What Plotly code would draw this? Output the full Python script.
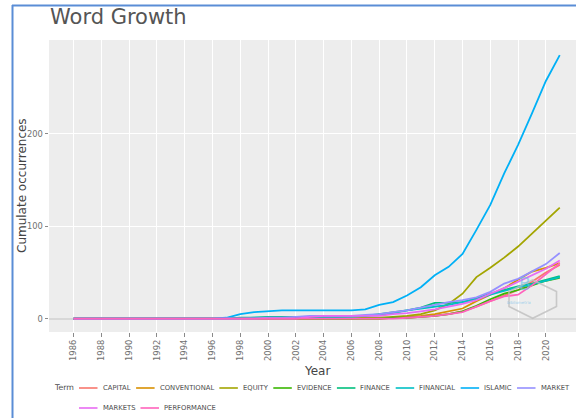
import plotly.graph_objects as go

years = list(range(1986, 2022))
terms = ["CAPITAL", "CONVENTIONAL", "EQUITY", "EVIDENCE", "FINANCE",
         "FINANCIAL", "ISLAMIC", "MARKET", "MARKETS", "PERFORMANCE"]
colors = ["#F8766D", "#D89000", "#A3A500", "#39B600", "#00BF7D",
          "#00BFC4", "#00B0F6", "#9590FF", "#E76BF3", "#FF62BC"]

# values 1986-1996 are all zero for every term
z = [0] * 11
capital = z + [0, 0, 0, 0, 0, 0, 0, 0, 0, 0, 0, 0, 1, 1, 2, 3, 5, 8, 13, 19, 25, 31, 40, 50, 58]
conventional = z + [0, 0, 0, 0, 0, 0, 0, 0, 0, 0, 0, 0, 1, 2, 3, 5, 8, 11, 19, 26, 33, 42, 51, 55, 60]
equity = z + [0, 0, 0, 0, 0, 0, 0, 0, 0, 0, 1, 1, 2, 3, 5, 9, 16, 27, 45, 55, 66, 78, 92, 106, 120]
evidence = z + [0, 0, 0, 0, 0, 0, 0, 0, 0, 0, 0, 0, 1, 1, 2, 3, 5, 8, 14, 21, 27, 31, 36, 41, 44]
finance = z + [0, 1, 1, 2, 2, 2, 2, 2, 2, 3, 3, 5, 7, 9, 12, 17, 17, 18, 22, 27, 31, 35, 38, 42, 46]
financial = z + [0, 0, 1, 1, 1, 1, 2, 2, 2, 2, 3, 4, 6, 9, 11, 13, 15, 18, 21, 26, 30, 34, 37, 41, 45]
islamic = z + [1, 5, 7, 8, 9, 9, 9, 9, 9, 9, 10, 15, 18, 25, 34, 47, 56, 70, 96, 123, 157, 188, 222, 257, 285]
market = z + [0, 0, 0, 1, 1, 2, 3, 3, 3, 3, 4, 5, 7, 9, 12, 15, 18, 20, 23, 29, 38, 43, 51, 59, 71]
markets = z + [0, 0, 0, 0, 0, 0, 2, 3, 3, 3, 3, 3, 5, 6, 8, 10, 13, 16, 20, 27, 33, 40, 47, 54, 63]
performance = z + [0, 0, 0, 0, 0, 0, 0, 0, 0, 0, 0, 0, 0, 1, 2, 3, 5, 7, 13, 19, 24, 26, 36, 48, 60]

series = [capital, conventional, equity, evidence, finance,
          financial, islamic, market, markets, performance]

x_ticks = list(range(1986, 2021, 2))
y_ticks = [0, 100, 200]

FONT = "DejaVu Sans"
FW, FH = 576, 418
ML, MR, MT, MB = 49, 0, 40, 86
PW, PH = FW - ML - MR, FH - MT - MB


def px_x(x):
    return (x - ML) / PW


def px_y(y):
    return (FH - MB - y) / PH


fig = go.Figure()
for name, vals, col in zip(terms, series, colors):
    fig.add_trace(go.Scatter(x=years, y=vals, mode="lines", name=name,
                             line=dict(color=col, width=1.8),
                             showlegend=False))

shapes = []
annotations = []

# manual ggplot-style legend
char_w = {"A": .684, "B": .686, "C": .698, "D": .770, "E": .632, "F": .575,
          "G": .775, "H": .752, "I": .295, "J": .295, "K": .656, "L": .557,
          "M": .863, "N": .748, "O": .787, "P": .603, "Q": .787, "R": .695,
          "S": .635, "T": .611, "U": .732, "V": .684, "W": .989, "X": .685,
          "Y": .611, "Z": .685}
lfs = 6.8
row_y = [388, 408]
cx, row = 79.0, 0
for name, col in zip(terms, colors):
    tw = sum(char_w.get(c, .6) for c in name) * lfs
    if cx + 18.5 + 4 + tw > FW - 2:
        row += 1
        cx = 79.0
    y = row_y[row]
    shapes.append(dict(type="line", xref="paper", yref="paper",
                       x0=px_x(cx), x1=px_x(cx + 18.5), y0=px_y(y), y1=px_y(y),
                       line=dict(color=col, width=1.6)))
    annotations.append(dict(text=name, xref="paper", yref="paper",
                            x=px_x(cx + 21.5), y=px_y(y), xanchor="left",
                            yanchor="middle", showarrow=False,
                            font=dict(family=FONT, size=lfs, color="#4d4d4d")))
    cx += 18.5 + 4 + tw + 6.5

annotations.append(dict(text="Term", xref="paper", yref="paper",
                        x=px_x(52), y=px_y(387), xanchor="left", yanchor="middle",
                        showarrow=False, font=dict(family=FONT, size=7.8, color="#4d4d4d")))

# axis titles
annotations.append(dict(text="Year", xref="paper", yref="paper",
                        x=px_x(317), y=px_y(371), xanchor="center", yanchor="middle",
                        showarrow=False, font=dict(family=FONT, size=12, color="#444444")))
annotations.append(dict(text="Cumulate occurrences", xref="paper", yref="paper",
                        x=px_x(22), y=px_y(186), xanchor="center", yanchor="middle",
                        textangle=-90, showarrow=False,
                        font=dict(family=FONT, size=12, color="#444444")))

# watermark hexagon
hx = [532.7, 556.5, 556.5, 532.7, 509, 509]
hy = [280, 291.5, 306.5, 318.3, 306.5, 291.5]
path = "M " + " L ".join(f"{px_x(a):.4f},{px_y(b):.4f}" for a, b in zip(hx, hy)) + " Z"
shapes.append(dict(type="path", xref="paper", yref="paper", path=path,
                   line=dict(color="rgba(190,190,190,0.8)", width=1.6)))
annotations.append(dict(text="B", xref="paper", yref="paper", x=px_x(533), y=px_y(296),
                        showarrow=False, font=dict(family=FONT, size=17, color="rgba(110,190,235,0.6)")))
annotations.append(dict(text="bibliometrix", xref="paper", yref="paper", x=px_x(534), y=px_y(307),
                        showarrow=False, font=dict(family=FONT, size=4, color="rgba(110,190,235,0.7)")))

# screenshot frame
frame = "#5a8dd6"
shapes.append(dict(type="line", xref="paper", yref="paper",
                   x0=px_x(12), x1=px_x(FW), y0=px_y(5.5), y1=px_y(5.5),
                   line=dict(color=frame, width=2)))
shapes.append(dict(type="line", xref="paper", yref="paper",
                   x0=px_x(12.5), x1=px_x(12.5), y0=px_y(5), y1=px_y(FH),
                   line=dict(color=frame, width=2)))

fig.update_layout(
    width=FW, height=FH,
    margin=dict(l=ML, r=MR, t=MT, b=MB),
    paper_bgcolor="white",
    plot_bgcolor="#EDEDED",
    title=dict(text="Word Growth", x=50 / FW, xanchor="left", xref="container",
               y=1 - 17 / FH, yanchor="middle", yref="container",
               font=dict(family=FONT, size=21, color="#555555")),
    font=dict(family=FONT),
    shapes=shapes,
    annotations=annotations,
    xaxis=dict(range=[1984.23, 2022.17], tickmode="array", tickvals=x_ticks,
               ticktext=[str(t) for t in x_ticks], tickangle=-90,
               ticks="outside", ticklen=3.5, tickwidth=0.7, tickcolor="#8a8a8a",
               tickfont=dict(family=FONT, size=8.3, color="#707070"),
               showgrid=True, gridcolor="white", gridwidth=1,
               zeroline=False, showline=False),
    yaxis=dict(range=[-14.4, 301.3], tickmode="array", tickvals=y_ticks,
               ticks="outside", ticklen=3.5, tickwidth=0.7, tickcolor="#8a8a8a",
               tickfont=dict(family=FONT, size=8.3, color="#707070"),
               showgrid=True, gridcolor="white", gridwidth=1,
               zeroline=True, zerolinecolor="#d8d8d8", zerolinewidth=1.6,
               showline=False),
)

post_js = (
    "var s=document.createElement('style');"
    "s.innerHTML='html,body{margin:0;padding:0;overflow:hidden;scrollbar-width:none;"
    "width:576px;height:418px;}"
    "::-webkit-scrollbar{display:none;width:0;height:0;}"
    ".plotly-graph-div{position:fixed;left:0;top:0;}';"
    "document.head.appendChild(s);"
    "document.documentElement.style.overflow='hidden';"
    "document.body.style.overflow='hidden';"
    "window.scrollTo(0,0);"
)

fig.write_html("out.html", config={"displayModeBar": False}, post_script=post_js)
